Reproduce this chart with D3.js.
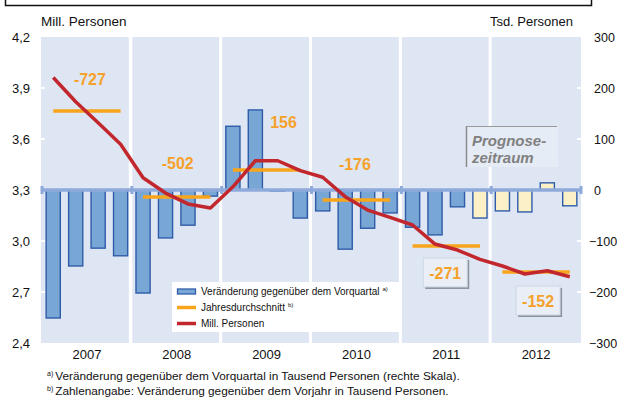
<!DOCTYPE html>
<html><head><meta charset="utf-8">
<script src="https://cdn.jsdelivr.net/npm/d3@7"></script>
<style>
body{margin:0;background:#fff}
svg{display:block}
text{font-family:"Liberation Sans",Arial,Helvetica,sans-serif}
</style>
</head><body>
<svg id="chart" width="617" height="400"></svg>
<script>
// ---------- data ----------
const years = ["2007","2008","2009","2010","2011","2012"];
const quarterNames = ["Q1","Q2","Q3","Q4"];
const quarters = years.flatMap(y => quarterNames.map(q => y + " " + q));
// change vs previous quarter, thousand persons (right scale)
const changeTsd = [-251,-149,-114,-129, -202,-94,-69,-12, 125,157,-2,-55, -41,-116,-75,-45, -73,-88,-33,-55, -41,-43,14,-31];
const firstForecastQuarter = "2011 Q4";
// level, million persons (left scale)
const levelMill = [3.962,3.819,3.696,3.569, 3.372,3.282,3.218,3.194, 3.319,3.472,3.472,3.414, 3.375,3.261,3.182,3.139, 3.094,2.982,2.947,2.892, 2.853,2.806,2.825,2.790];
// annual average, million persons
const annualAvgMill = [3.765,3.259,3.418,3.241,2.971,2.818];
// change vs previous year, thousand persons
const annualChangeLabels = ["-727","-502","156","-176","-271","-152"];
const leftTicks = [2.4,2.7,3.0,3.3,3.6,3.9,4.2];
const rightTicks = [-300,-200,-100,0,100,200,300];
const legendLabels = ["Veränderung gegenüber dem Vorquartal","Jahresdurchschnitt","Mill. Personen"];
const legendSup = ["a)","b)",""];
const footnotes = [["a)","Veränderung gegenüber dem Vorquartal in Tausend Personen (rechte Skala)."],["b)","Zahlenangabe: Veränderung gegenüber dem Vorjahr in Tausend Personen."]];
const titleLeft = "Mill. Personen", titleRight = "Tsd. Personen";
const forecastText = ["Prognose-","zeitraum"];

// ---------- layout ----------
const svg = d3.select("#chart");
const X0 = 42, X1 = 581, YT = 37, YB = 343;
const C = {panel:"#dfe6f3", barFill:"#78a6d5", barStroke:"#2f5ca9", fcFill:"#fcf0c6",
  zero:"#8eaadb", orange:"#f8a51c", orangeText:"#f6a12a", red:"#c1272d", grey:"#808080"};

const xQ = d3.scaleBand().domain(quarters).range([X0, X1]).paddingInner(0.37).paddingOuter(0.185);
const xY = d3.scaleBand().domain(years).range([X0, X1]);
const yL = d3.scaleLinear().domain([2.4, 4.2]).range([YB, YT]);
const yR = d3.scaleLinear().domain([-300, 300]).range([YB, YT]);
const qc = q => xQ(q) + xQ.bandwidth()/2;

// top frame (cut-off box)
svg.append("rect").attr("x",5.5).attr("y",-20).attr("width",586).attr("height",25.5)
  .attr("fill","none").attr("stroke","#111").attr("stroke-width",1.5);

// year panels
svg.append("g").selectAll("rect").data(years).join("rect")
  .attr("x",(d,i)=> i===0 ? X0-1 : xY(d)+0.5)
  .attr("width",(d,i)=> i===years.length-1 ? X1 - (xY(d)+0.5) : xY.bandwidth() - (i===0?2:3))
  .attr("y",YT).attr("height",YB-YT).attr("fill",C.panel);

// white tick marks on panels
svg.append("g").selectAll("line").data(leftTicks.slice(1,-1)).join("line")
  .attr("x1",X0-2).attr("x2",X0+3).attr("y1",d=>yL(d)).attr("y2",d=>yL(d))
  .attr("stroke","#fff").attr("stroke-width",2);
svg.append("g").selectAll("line").data(rightTicks.slice(1,-1).filter(d=>d!==0)).join("line")
  .attr("x1",X1-4).attr("x2",X1+2).attr("y1",d=>yR(d)).attr("y2",d=>yR(d))
  .attr("stroke","#fff").attr("stroke-width",2);

// bars
const fcIdx = quarters.indexOf(firstForecastQuarter);
svg.append("g").selectAll("rect").data(quarters).join("rect")
  .attr("x",q=>xQ(q)).attr("width",xQ.bandwidth())
  .attr("y",(q,i)=>yR(Math.max(0,changeTsd[i])))
  .attr("height",(q,i)=>Math.abs(yR(changeTsd[i])-yR(0)))
  .attr("fill",(q,i)=> i>=fcIdx ? C.fcFill : C.barFill)
  .attr("stroke",C.barStroke).attr("stroke-width",1.4);

// zero line with year ticks
svg.append("line").attr("x1",X0).attr("x2",X1).attr("y1",yR(0)).attr("y2",yR(0))
  .attr("stroke",C.zero).attr("stroke-width",3.5);
svg.append("g").selectAll("rect").data([...years.map(y=>xY(y)), X1]).join("rect")
  .attr("x",d=>d-1.5).attr("width",3).attr("y",yR(0)-4).attr("height",8).attr("fill",C.zero);

// annual average lines
svg.append("g").selectAll("line").data(years).join("line")
  .attr("x1",(y,i)=>qc(quarters[i*4])).attr("x2",(y,i)=>qc(quarters[i*4+3]))
  .attr("y1",(y,i)=>yL(annualAvgMill[i])).attr("y2",(y,i)=>yL(annualAvgMill[i]))
  .attr("stroke",C.orange).attr("stroke-width",3.5);

// level line
svg.append("path").datum(quarters)
  .attr("d", d3.line().x(q=>qc(q)).y((q,i)=>yL(levelMill[i])))
  .attr("fill","none").attr("stroke",C.red).attr("stroke-width",3.5).attr("stroke-linejoin","round");

// annual change labels (annotation placement: [x shift px, level value])
const labelPlace = [[3,3.953],[1,3.459],[17,3.70],[-1.5,3.453],[-1,2.812],[2,2.647]];
const boxed = [false,false,false,false,true,true];
const lg = svg.append("g");
years.forEach((y,i)=>{
  const cx = xY(y)+xY.bandwidth()/2 + labelPlace[i][0], cy = yL(labelPlace[i][1]);
  if (boxed[i]) {
    lg.append("rect").attr("x",cx-20).attr("y",cy-13).attr("width",44).attr("height",29).attr("fill","#8d929b");
    lg.append("rect").attr("x",cx-22).attr("y",cy-15).attr("width",44).attr("height",29)
      .attr("fill","#e9eef7").attr("stroke","#cdd6e6").attr("stroke-width",1);
  }
  lg.append("text").attr("x",cx).attr("y",cy).attr("dy","0.36em").attr("text-anchor","middle")
    .attr("font-size",16).attr("font-weight","bold").attr("fill",C.orangeText).text(annualChangeLabels[i]);
});

// forecast box
const fb = svg.append("g");
fb.append("rect").attr("x",466).attr("y",126).attr("width",92).attr("height",41).attr("fill","#e6ecf6");
fb.append("line").attr("x1",466.5).attr("x2",466.5).attr("y1",126).attr("y2",167).attr("stroke","#8a8a8a").attr("stroke-width",1.5);
fb.append("line").attr("x1",466).attr("x2",557).attr("y1",126.5).attr("y2",126.5).attr("stroke","#9a9a9a").attr("stroke-width",1.2);
forecastText.forEach((t,i)=>fb.append("text").attr("x",472).attr("y",146+i*17)
  .attr("font-size",15).attr("font-weight","bold").attr("font-style","italic").attr("fill",C.grey).text(t));

// legend
const leg = svg.append("g");
leg.append("rect").attr("x",172).attr("y",282).attr("width",228).attr("height",50).attr("fill","#fff");
legendLabels.forEach((t,i)=>{
  const yy = 291.5 + i*16;
  if (i===0) leg.append("rect").attr("x",177.5).attr("y",yy-2.5).attr("width",18).attr("height",5)
      .attr("fill",C.barFill).attr("stroke",C.barStroke).attr("stroke-width",1.3);
  else leg.append("line").attr("x1",177).attr("x2",196).attr("y1",yy).attr("y2",yy)
      .attr("stroke", i===1?C.orange:C.red).attr("stroke-width",3.5);
  const tx = leg.append("text").attr("x",201).attr("y",yy+3.5).attr("font-size",10).attr("fill","#111");
  tx.append("tspan").text(t);
  if (legendSup[i]) tx.append("tspan").attr("dx",3).attr("dy",-4).attr("font-size",6).text(legendSup[i]);
});

// axes
const fmt = d => d3.format(".1f")(d).replace(".",",");
const ax1 = svg.append("g").attr("transform",`translate(${X0},0)`)
  .call(d3.axisLeft(yL).tickValues(leftTicks).tickSize(0).tickPadding(12).tickFormat(fmt));
ax1.select(".domain").remove();
ax1.selectAll("text").attr("font-size",13).attr("fill","#111").attr("font-family","Liberation Sans, Arial, sans-serif");
const ax2 = svg.append("g").attr("transform",`translate(${X1},0)`)
  .call(d3.axisRight(yR).tickValues(rightTicks).tickSize(0).tickFormat(d3.format("d")));
ax2.select(".domain").remove();
ax2.selectAll("text").attr("font-size",12.5).attr("fill","#111").attr("font-family","Liberation Sans, Arial, sans-serif")
  .attr("x",d=> d<0 ? 8 : 13);
const ax3 = svg.append("g").attr("transform",`translate(0,${YB})`)
  .call(d3.axisBottom(xY).tickSize(0).tickPadding(7));
ax3.select(".domain").remove();
ax3.selectAll("text").attr("font-size",13).attr("fill","#111").attr("font-family","Liberation Sans, Arial, sans-serif");

// titles
svg.append("text").attr("x",41).attr("y",26).attr("font-size",13.5).attr("fill","#111").text(titleLeft);
svg.append("text").attr("x",573).attr("y",26).attr("text-anchor","end").attr("font-size",13).attr("fill","#111").text(titleRight);

// footnotes
footnotes.forEach((f,i)=>{
  const t = svg.append("text").attr("x",47).attr("y",380+i*15).attr("font-size",11.8).attr("fill","#111");
  t.append("tspan").attr("font-size",7).attr("dy",-4).text(f[0]);
  t.append("tspan").attr("dx",2).attr("dy",4).text(f[1]);
});
</script>
</body></html>
